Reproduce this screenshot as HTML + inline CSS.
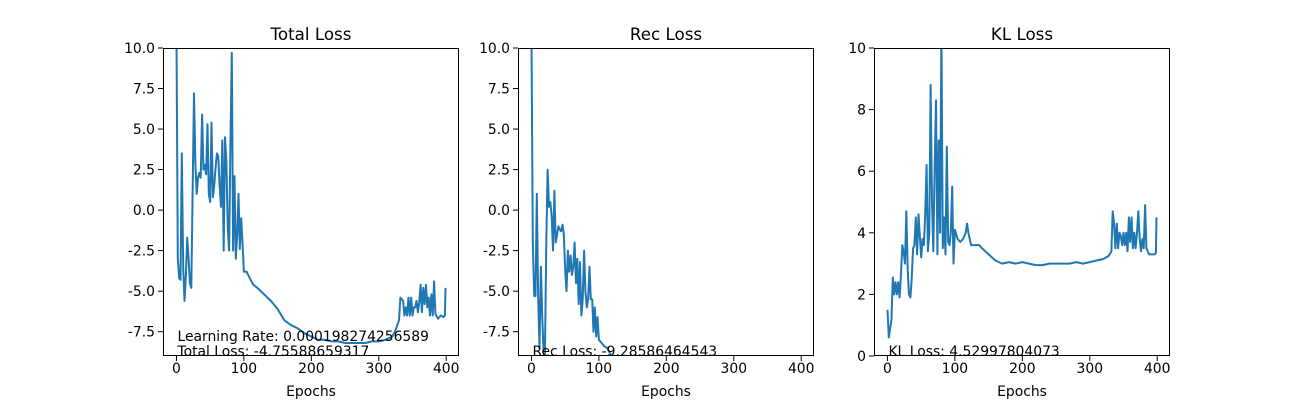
<!DOCTYPE html>
<html><head><meta charset="utf-8"><style>
body{margin:0;background:#fff;}
svg{display:block;font-family:"DejaVu Sans","Liberation Sans",sans-serif;}
</style></head><body>
<svg id="fig" width="1300" height="400"></svg>
<script>
const totalEpochs=[0,2,4,6,8,10,12,14,16,18,20,22,24,26,28,30,32,34,36,38,40,42,44,46,48,50,52,54,56,58,60,62,64,66,68,70,72,74,76,78,80,82,84,86,88,90,92,94,96,98,100,104,110,114,120,130,140,150,160,170,180,190,200,210,220,230,240,250,260,270,280,290,300,310,320,325,330,332,336,338,340,342,344,346,348,350,352,354,356,358,360,362,364,366,368,370,372,374,376,378,380,382,384,388,392,396,398,399];
const totalValues=[10.5,-3,-4.2,-4.3,3.5,-3.5,-5.6,-4,-1.7,-3,-4.5,-4.8,1,7.2,3,1,2,2.3,2.0,5.9,2.5,2.8,2.2,5.3,1.0,0.5,5.4,0.8,1.5,2.6,3.5,3.3,1.5,0.2,4.3,-2.5,4.5,3.0,-1,-2.5,4.0,9.7,-2.5,2.1,-3,-1.5,1.0,-2.4,-0.5,-2,-3.8,-3.8,-4.3,-4.6,-4.8,-5.2,-5.6,-6.1,-6.8,-7.1,-7.3,-7.6,-7.8,-8.0,-8.0,-8.1,-8.1,-8.2,-8.2,-8.2,-8.2,-8.1,-8.1,-8.0,-7.8,-7.4,-6.8,-5.4,-5.6,-6.5,-6.0,-6.5,-5.4,-6.5,-5.4,-6.5,-6.0,-6.0,-5.6,-6.3,-5.7,-4.6,-6.3,-4.8,-5.8,-4.6,-6.0,-5.4,-6.5,-5.2,-6.5,-4.4,-6.4,-6.7,-6.5,-6.6,-6.5,-4.8];
const recEpochs=[0,2,4,6,8,10,12,14,16,18,20,22,24,26,28,30,32,34,36,38,40,42,44,46,48,50,52,54,56,58,60,62,64,66,68,70,72,74,76,78,80,82,84,86,88,90,92,94,96,98,100,104,108,112,116,120,130,200,300,399];
const recValues=[10.5,-2,-5.3,-5.3,1.0,-5.5,-8.5,-3.5,-6.5,-8.8,-9,-2,2.5,0.2,0.5,-0.4,-2.5,1.2,-2.0,-1.5,-1.0,-1.2,-1.3,-0.9,-1.5,-3.7,-5.0,-2.5,-3.8,-2.8,-4.0,-3.5,-2.0,-4.5,-3.0,-5.8,-3.2,-6.5,-5.5,-2.5,-5.0,-6.0,-5.5,-3.5,-5.5,-5.5,-7.5,-6.0,-7.8,-6.6,-8.0,-8.2,-8.4,-8.5,-8.8,-9.2,-9.3,-9.3,-9.3,-9.3];
const klEpochs=[0,2,4,6,8,10,12,14,16,18,20,22,24,26,28,30,32,34,36,38,40,42,44,46,48,50,52,54,56,58,60,62,64,66,68,70,72,74,76,78,80,82,84,86,88,90,92,94,96,98,100,104,108,112,116,118,120,124,130,136,140,150,160,170,180,190,200,210,220,230,240,250,260,270,280,290,300,310,320,328,332,334,336,338,340,342,344,346,348,350,352,354,356,358,360,362,364,366,368,370,372,374,376,378,380,382,384,388,392,396,398,399];
const klValues=[1.5,0.6,0.9,1.2,2.55,2.0,2.4,2.0,2.4,1.9,2.6,3.6,3.4,3.0,4.7,2.8,2.0,1.9,2.5,3.5,3.6,4.5,3.3,4.6,3.9,3.2,3.8,3.6,4.6,6.2,3.4,4.0,8.8,5.0,3.4,6.2,8.3,3.3,7.0,4.0,10.5,3.5,4.5,3.3,6.8,3.7,3.6,4.0,5.5,3.0,4.1,3.8,3.7,3.8,4.0,4.3,4.0,3.6,3.6,3.6,3.5,3.3,3.1,3.0,3.05,3.0,3.05,3.0,2.95,2.95,3.0,3.0,3.0,3.0,3.05,3.0,3.05,3.1,3.15,3.25,3.4,4.7,4.3,3.5,4.3,3.5,4.0,3.9,3.6,4.0,3.6,4.0,3.4,4.5,3.7,4.5,3.5,4.0,3.5,4.0,4.7,3.8,3.4,3.8,3.5,4.9,3.5,3.3,3.3,3.3,3.35,4.5];
const xTicks=[0,100,200,300,400];
const yTicksLoss=["10.0","7.5","5.0","2.5","0.0","-2.5","-5.0","-7.5"];
const yTicksKL=["0","2","4","6","8","10"];

const NS="http://www.w3.org/2000/svg";
const svg=document.getElementById('fig');
function mk(tag,attrs,parent){const e=document.createElementNS(NS,tag);for(const k in attrs)e.setAttribute(k,attrs[k]);(parent||svg).appendChild(e);return e;}

function panel(id,x0,title,xs,ys,ymin,ymax,yticks,notes){
  const W=296,T=48,B=356,xmin=-19.95,xmax=418.95;
  const sx=v=>x0+(v-xmin)/(xmax-xmin)*W;
  const sy=v=>B-(v-ymin)/(ymax-ymin)*(B-T);
  const g=mk('g',{});
  
  
  const cp=mk('clipPath',{id:'clip-'+id},g);
  mk('rect',{x:x0,y:T,width:W,height:B-T},cp);
  const pts=xs.map((e,i)=>sx(e).toFixed(1)+','+sy(ys[i]).toFixed(1)).join(' ');
  const line=mk('polyline',{points:pts,fill:'none',stroke:'#1f77b4','stroke-width':2,'stroke-linejoin':'round','clip-path':'url(#clip-'+id+')'},g);
  
  
  const fr=mk('rect',{x:x0+0.5,y:T+0.5,width:W-1,height:B-T-1,fill:'none',stroke:'#000','stroke-width':1},g);
  
  
  xTicks.forEach(t=>{const x=sx(t);
    mk('line',{x1:x,x2:x,y1:B,y2:B+5,stroke:'#000'},g);
    const tx=mk('text',{x:x,y:373,'text-anchor':'middle','font-size':13.9},g);tx.textContent=t;
    
    
  });
  yticks.forEach(s=>{const y=sy(parseFloat(s));
    mk('line',{x1:x0-5,x2:x0,y1:y,y2:y,stroke:'#000'},g);
    const tx=mk('text',{x:x0-8,y:y+5,'text-anchor':'end','font-size':13.9},g);tx.textContent=s;
    
    
  });
  const tt=mk('text',{x:x0+W/2,y:40,'text-anchor':'middle','font-size':16.7},g);tt.textContent=title;
  
  
  const xl=mk('text',{x:x0+W/2,y:396,'text-anchor':'middle','font-size':13.9},g);xl.textContent='Epochs';
  
  
  notes.forEach((n,i)=>{const t=mk('text',{x:sx(0)+1,y:n[1],'font-size':13.9},g);t.textContent=n[0];
    
    
  });
}
panel('total-loss',163,'Total Loss',totalEpochs,totalValues,-9,10,yTicksLoss,[['Learning Rate: 0.000198274256589',341],['Total Loss: -4.75588659317',356]]);
panel('rec-loss',518,'Rec Loss',recEpochs,recValues,-9,10,yTicksLoss,[['Rec Loss: -9.28586464543',356]]);
panel('kl-loss',874,'KL Loss',klEpochs,klValues,0,10,yTicksKL,[['KL Loss: 4.52997804073',356]]);
</script>
</body></html>
